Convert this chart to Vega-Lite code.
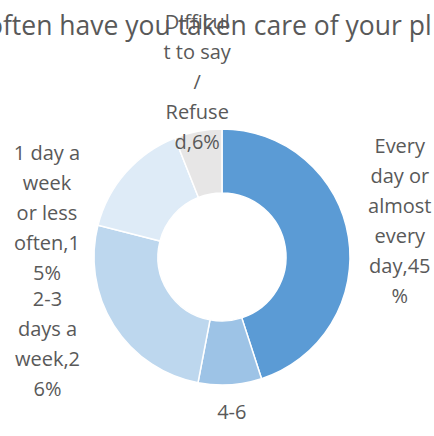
{
  "$schema": "https://vega.github.io/schema/vega-lite/v6.json",
  "autosize": {"type": "none"},
  "width": 424,
  "height": 358,
  "padding": {"left": 10, "right": 0, "top": 78, "bottom": 0},
  "background": "white",
  "title": {
    "text": "often have you taken care of your pl",
    "anchor": "start",
    "frame": "group",
    "dx": -23,
    "dy": 90,
    "offset": 17,
    "baseline": "alphabetic",
    "font": "Open Sans",
    "fontSize": 26.5,
    "fontWeight": "normal",
    "color": "#595959"
  },
  "data": {
    "values": [
      {"cat": "Every day or almost every day", "value": 45, "order": 1, "label": "Every\nday or\nalmost\nevery\nday,45\n%"},
      {"cat": "4-6 days a week", "value": 8, "order": 2, "label": "4-6"},
      {"cat": "2-3 days a week", "value": 26, "order": 3, "label": "2-3\ndays a\nweek,2\n6%"},
      {"cat": "1 day a week or less often", "value": 15, "order": 4, "label": "1 day a\nweek\nor less\noften,1\n5%"},
      {"cat": "Difficult to say / Refused", "value": 6, "order": 5, "label": "Difficul\nt to say\n/\nRefuse\nd,6%"}
    ]
  },
  "encoding": {
    "theta": {"field": "value", "type": "quantitative", "stack": true},
    "order": {"field": "order", "type": "quantitative"},
    "detail": {"field": "cat", "type": "nominal"}
  },
  "layer": [
    {
      "mark": {"type": "arc", "radius": 128, "radius2": 64, "stroke": "white", "strokeWidth": 1.5},
      "encoding": {
        "color": {
          "field": "cat",
          "type": "nominal",
          "scale": {
            "domain": ["Every day or almost every day", "4-6 days a week", "2-3 days a week", "1 day a week or less often", "Difficult to say / Refused"],
            "range": ["#5B9BD5", "#9DC3E6", "#BDD7EE", "#DEEBF7", "#E7E6E6"]
          },
          "legend": null
        }
      }
    },
    {
      "mark": {"type": "text", "radius": 180, "dy": -82, "font": "Open Sans", "fontSize": 20, "lineHeight": 30, "lineBreak": "\n", "color": "#595959", "align": "center", "baseline": "middle"},
      "encoding": {"text": {"condition": {"test": "datum.order === 1", "field": "label"}, "value": ""}}
    },
    {
      "mark": {"type": "text", "radius": 156, "font": "Open Sans", "fontSize": 20, "lineHeight": 30, "lineBreak": "\n", "color": "#595959", "align": "center", "baseline": "middle"},
      "encoding": {"text": {"condition": {"test": "datum.order === 2", "field": "label"}, "value": ""}}
    },
    {
      "mark": {"type": "text", "radius": 196, "dx": -9, "dy": -62, "font": "Open Sans", "fontSize": 20, "lineHeight": 30, "lineBreak": "\n", "color": "#595959", "align": "center", "baseline": "middle"},
      "encoding": {"text": {"condition": {"test": "datum.order === 3", "field": "label"}, "value": ""}}
    },
    {
      "mark": {"type": "text", "radius": 180, "dx": -40, "dy": 16, "font": "Open Sans", "fontSize": 20, "lineHeight": 30, "lineBreak": "\n", "color": "#595959", "align": "center", "baseline": "middle"},
      "encoding": {"text": {"condition": {"test": "datum.order === 4", "field": "label"}, "value": ""}}
    },
    {
      "mark": {"type": "text", "radius": 175, "dx": 8, "dy": -62, "font": "Open Sans", "fontSize": 20, "lineHeight": 30, "lineBreak": "\n", "color": "#595959", "align": "center", "baseline": "middle"},
      "encoding": {"text": {"condition": {"test": "datum.order === 5", "field": "label"}, "value": ""}}
    }
  ],
  "config": {"view": {"stroke": null}}
}
